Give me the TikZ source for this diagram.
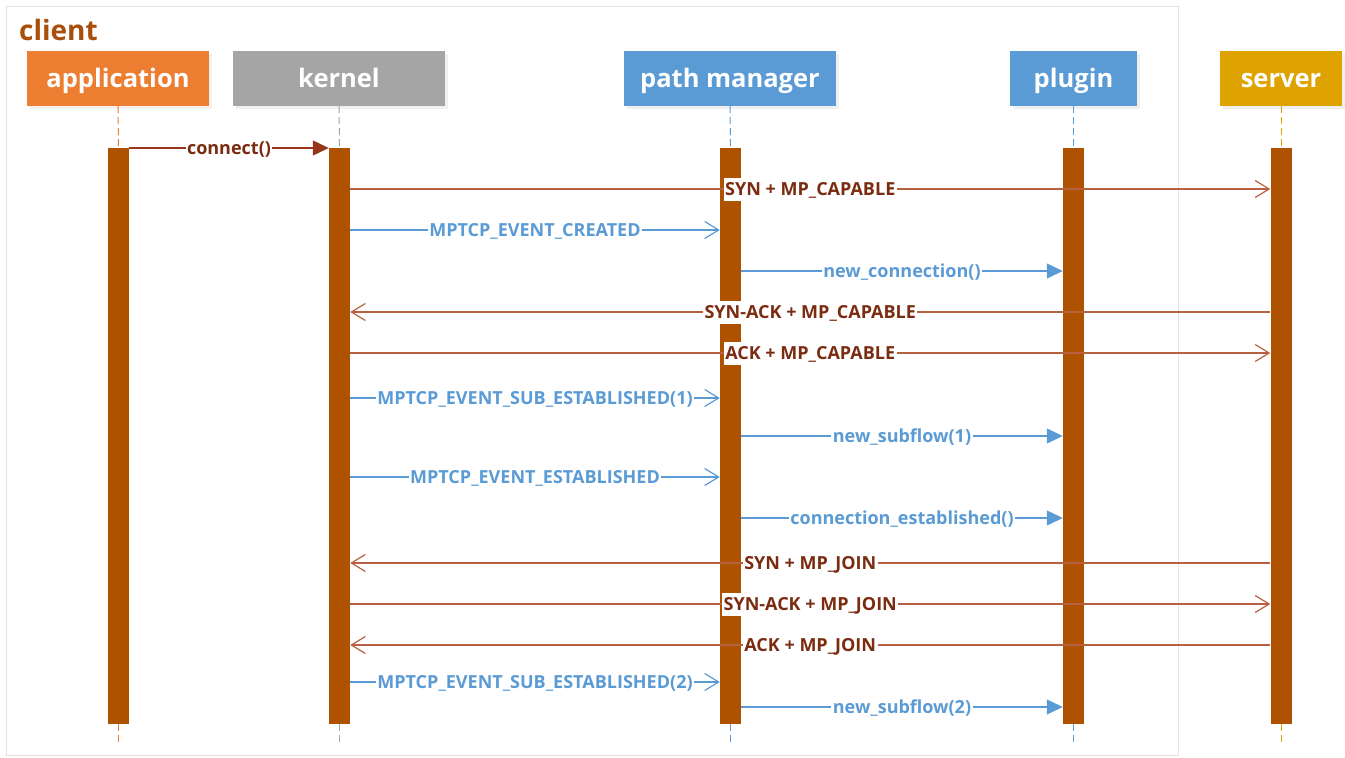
\documentclass[tikz,border=0pt]{standalone}
\usepackage{fontspec}
\setmainfont{Open Sans}
\usetikzlibrary{arrows.meta,calc}

\definecolor{appOrange}{RGB}{237,125,49}
\definecolor{kerGray}{RGB}{165,165,165}
\definecolor{pmBlue}{RGB}{91,155,213}
\definecolor{srvGold}{RGB}{222,163,0}
\definecolor{barBrown}{RGB}{174,82,0}
\definecolor{clientBrown}{RGB}{169,79,11}
\definecolor{sigLine}{RGB}{184,96,66}
\definecolor{sigText}{RGB}{122,43,16}
\definecolor{callLine}{RGB}{150,55,25}
\definecolor{frameCol}{RGB}{234,222,222}

\begin{document}
\begin{tikzpicture}[x=1pt,y=-1pt,
  head/.style={fill=#1, text=white, inner sep=0pt, minimum height=55pt,
    text height=22pt, text depth=5pt,
    font=\bfseries\fontsize{25.5}{25.5}\selectfont},
  bar/.style={fill=barBrown, inner sep=0pt, minimum width=21pt,
    minimum height=576pt, anchor=north},
  life/.style={draw=#1, line width=1pt, dash pattern=on 7pt off 4pt},
  lbl/.style={fill=white, inner xsep=1.5pt, inner ysep=5pt,
    text height=13pt, text depth=0pt,
    font=\bfseries\fontsize{18}{18}\selectfont},
  sig/.style={draw=sigLine, line width=1.2pt,
    -{Straight Barb[length=14pt,width=17pt]}},
  evt/.style={draw=pmBlue, line width=1.2pt,
    -{Straight Barb[length=14pt,width=17pt]}},
  call/.style={draw=#1, line width=1.2pt,
    -{Triangle[length=16pt,width=15pt,fill=#1]}}
]
\useasboundingbox (0,0) rectangle (1345,758);

% client frame
\draw[frameCol, line width=1pt] (6,6) rectangle (1178,755);
\node[anchor=west, text=clientBrown, inner sep=0pt,
  font=\bfseries\fontsize{28}{28}\selectfont] (client) at (19,30) {client};

% soft shadows under the header boxes
\fill[black!6] (30,54) rectangle (212,109);
\fill[black!6] (236,54) rectangle (448,109);
\fill[black!6] (627,54) rectangle (839,109);
\fill[black!6] (1013,54) rectangle (1140,109);
\fill[black!6] (1223,54) rectangle (1345,109);

% participants
\node[head=appOrange, minimum width=182pt] (hApp) at (118,78.5) {application};
\node[head=kerGray, minimum width=212pt] (hKer) at (339,78.5) {kernel};
\node[head=pmBlue, minimum width=212pt] (hPm) at (730,78.5) {path manager};
\node[head=pmBlue, minimum width=127pt] (hPl) at (1073.5,78.5) {plugin};
\node[head=srvGold, minimum width=122pt] (hSrv) at (1281,78.5) {server};

% activation bars
\node[bar] (bApp) at (118.5,148) {};
\node[bar] (bKer) at (339.5,148) {};
\node[bar] (bPm) at (730.5,148) {};
\node[bar] (bPl) at (1073.5,148) {};
\node[bar] (bSrv) at (1281,148) {};

% lifelines
\coordinate (lifeEnd) at (0,746);
\foreach \h/\b/\c in {hApp/bApp/appOrange, hKer/bKer/kerGray, hPm/bPm/pmBlue,
                      hPl/bPl/pmBlue, hSrv/bSrv/srvGold}{
  \draw[life=\c] (\h.south) -- (\b.north);
  \draw[life=\c] (\b.south) -- (\b.south |- lifeEnd);
}

% message rows
\coordinate (r1) at (0,148);
\coordinate (r2) at (0,189);
\coordinate (r3) at (0,230);
\coordinate (r4) at (0,271);
\coordinate (r5) at (0,312);
\coordinate (r6) at (0,353);
\coordinate (r7) at (0,398);
\coordinate (r8) at (0,436);
\coordinate (r9) at (0,477);
\coordinate (r10) at (0,518);
\coordinate (r11) at (0,563);
\coordinate (r12) at (0,604);
\coordinate (r13) at (0,645);
\coordinate (r14) at (0,682);
\coordinate (r15) at (0,707);

% messages
\draw[call=callLine] (bApp.east |- r1) -- node[lbl, text=sigText] {connect()} (bKer.west |- r1);
\draw[sig] (bKer.east |- r2) -- node[lbl, text=sigText] {SYN + MP\_CAPABLE} (bSrv.west |- r2);
\draw[evt] (bKer.east |- r3) -- node[lbl, text=pmBlue] {MPTCP\_EVENT\_CREATED} (bPm.west |- r3);
\draw[call=pmBlue] (bPm.east |- r4) -- node[lbl, text=pmBlue] {new\_connection()} (bPl.west |- r4);
\draw[sig] (bSrv.west |- r5) -- node[lbl, text=sigText] {SYN-ACK + MP\_CAPABLE} (bKer.east |- r5);
\draw[sig] (bKer.east |- r6) -- node[lbl, text=sigText] {ACK + MP\_CAPABLE} (bSrv.west |- r6);
\draw[evt] (bKer.east |- r7) -- node[lbl, text=pmBlue] {MPTCP\_EVENT\_SUB\_ESTABLISHED(1)} (bPm.west |- r7);
\draw[call=pmBlue] (bPm.east |- r8) -- node[lbl, text=pmBlue] {new\_subflow(1)} (bPl.west |- r8);
\draw[evt] (bKer.east |- r9) -- node[lbl, text=pmBlue] {MPTCP\_EVENT\_ESTABLISHED} (bPm.west |- r9);
\draw[call=pmBlue] (bPm.east |- r10) -- node[lbl, text=pmBlue] {connection\_established()} (bPl.west |- r10);
\draw[sig] (bSrv.west |- r11) -- node[lbl, text=sigText] {SYN + MP\_JOIN} (bKer.east |- r11);
\draw[sig] (bKer.east |- r12) -- node[lbl, text=sigText] {SYN-ACK + MP\_JOIN} (bSrv.west |- r12);
\draw[sig] (bSrv.west |- r13) -- node[lbl, text=sigText] {ACK + MP\_JOIN} (bKer.east |- r13);
\draw[evt] (bKer.east |- r14) -- node[lbl, text=pmBlue] {MPTCP\_EVENT\_SUB\_ESTABLISHED(2)} (bPm.west |- r14);
\draw[call=pmBlue] (bPm.east |- r15) -- node[lbl, text=pmBlue] {new\_subflow(2)} (bPl.west |- r15);
\end{tikzpicture}
\end{document}
